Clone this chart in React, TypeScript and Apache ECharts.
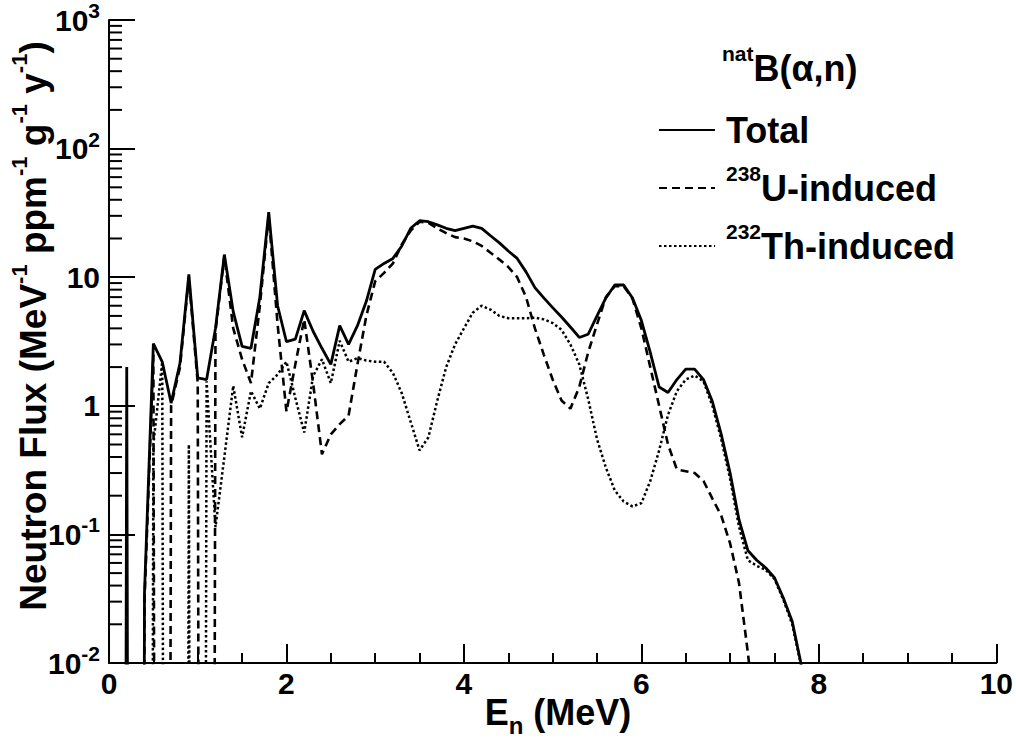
import React, { useEffect, useRef } from "react";
import * as echarts from "echarts";

// Empty bins (zero flux) - drawn off-scale below the log axis
const ZERO = 1e-30;

const energies = [
  0.1, 0.2, 0.3, 0.4, 0.5, 0.6, 0.7, 0.8, 0.9, 1.0,
  1.1, 1.2, 1.3, 1.4, 1.5, 1.6, 1.7, 1.8, 1.9, 2.0,
  2.1, 2.2, 2.3, 2.4, 2.5, 2.6, 2.7, 2.8, 2.9, 3.0,
  3.1, 3.2, 3.3, 3.4, 3.5, 3.6, 3.7, 3.8, 3.9, 4.0,
  4.1, 4.2, 4.3, 4.4, 4.5, 4.6, 4.7, 4.8, 4.9, 5.0,
  5.1, 5.2, 5.3, 5.4, 5.5, 5.6, 5.7, 5.8, 5.9, 6.0,
  6.1, 6.2, 6.3, 6.4, 6.5, 6.6, 6.7, 6.8, 6.9, 7.0,
  7.1, 7.2, 7.3, 7.4, 7.5, 7.6, 7.7, 7.8, 7.9,
];

const totalFlux = [
  ZERO, 2.0, ZERO, 0.035, 3.05, 2.2, 1.05, 2.15, 10.5, 1.65,
  1.6, 4.0, 15, 5.4, 2.9, 2.8, 7.0, 32, 6.0, 3.15,
  3.3, 5.5, 3.8, 2.8, 2.1, 4.2, 3.0, 4.2, 6.5, 11.5,
  12.8, 14, 17.5, 24, 27.5, 27, 25.5, 24, 23, 24,
  25, 24, 21, 18.5, 16, 14, 11, 8.3, 6.9, 5.8,
  4.9, 4.1, 3.4, 3.6, 5.0, 6.9, 8.7, 8.7, 6.9, 4.6,
  2.6, 1.4, 1.27, 1.6, 1.93, 1.93, 1.6, 1.08, 0.6, 0.3,
  0.13, 0.075, 0.063, 0.055, 0.046, 0.032, 0.021, 0.0098, 0.003,
];

const u238Flux = [
  ZERO, ZERO, ZERO, 0.03, 2.5, ZERO, 1.0, 2.0, 10, 1.5,
  ZERO, 3.8, 14.5, 4.0, 2.3, 1.5, 6.0, 30, 4.3, 0.9,
  2.1, 4.7, 1.5, 0.42, 0.6, 0.72, 0.84, 2.1, 5.0, 9.3,
  10.8, 12.8, 18, 23, 27, 26.5, 24, 22, 20.5, 20,
  19, 17.5, 15.5, 13.7, 12, 10, 7, 4.0, 2.5, 1.6,
  1.1, 0.95, 1.4, 2.6, 4.3, 7.0, 8.5, 8.5, 6.8, 4.0,
  2.0, 1.0, 0.5, 0.32, 0.31, 0.3, 0.26, 0.19, 0.14, 0.085,
  0.042, 0.012, 0.003, 0.0005, 0.0001, ZERO, ZERO, ZERO, ZERO,
];

const th232Flux = [
  ZERO, ZERO, ZERO, ZERO, 0.5, 2.2, ZERO, ZERO, 0.5, ZERO,
  1.55, 0.114, 0.4, 1.43, 0.57, 1.3, 0.95, 1.5, 1.75, 2.2,
  1.15, 0.62, 1.7, 2.3, 1.5, 3.2, 2.2, 2.35, 2.25, 2.2,
  2.2, 1.8, 1.25, 0.75, 0.45, 0.57, 1.1, 2.0, 3.0, 4.0,
  5.3, 6.0, 5.6, 5.0, 4.8, 4.8, 4.8, 4.85, 4.7, 4.4,
  3.9, 3.0, 2.1, 1.13, 0.55, 0.33, 0.22, 0.18, 0.165, 0.175,
  0.26, 0.45, 0.85, 1.3, 1.6, 1.72, 1.55, 1.0, 0.55, 0.27,
  0.115, 0.063, 0.057, 0.053, 0.045, 0.031, 0.02, 0.0095, 0.003,
];

const seriesNames = ["Total", "238U-induced", "232Th-induced"];
const legendLabels: Record<string, string> = {
  Total: "Total",
  "238U-induced": "{sup|238}U-induced",
  "232Th-induced": "{sup|232}Th-induced",
};

const yDecades = [0.01, 0.1, 1, 10, 100];
const yMinorMultipliers = [2, 3, 4, 5, 6, 7, 8, 9];

const FONT = "'Liberation Sans', Arial, Helvetica, sans-serif";

export default function App() {
  const ref = useRef<HTMLDivElement>(null);

  useEffect(() => {
    if (!ref.current) return;
    const chart = echarts.init(ref.current, undefined, { renderer: "svg" });

    const mk = (vals: number[]) => energies.map((e, i) => [e, vals[i]]);
    const minorTickData: number[][] = [];
    yDecades.forEach((d) =>
      yMinorMultipliers.forEach((m) => minorTickData.push([0, m * d]))
    );

    const axisLineStyle = { color: "#000", width: 2 };

    const option: any = {
      animation: false,
      backgroundColor: "#fff",
      grid: { left: 109, right: 19, top: 18, bottom: 77, containLabel: false },
      xAxis: {
        type: "value",
        min: 0,
        max: 10,
        interval: 2,
        axisLine: { show: true, onZero: false, lineStyle: axisLineStyle },
        axisTick: { show: true, inside: true, length: 19, lineStyle: axisLineStyle },
        minorTick: { show: true, splitNumber: 4, length: 10, lineStyle: axisLineStyle },
        splitLine: { show: false },
        minorSplitLine: { show: false },
        axisLabel: {
          color: "#000",
          fontFamily: FONT,
          fontWeight: "bold",
          fontSize: 30,
          margin: 5,
        },
      },
      yAxis: {
        type: "log",
        logBase: 10,
        min: 0.01,
        max: 1000,
        axisLine: { show: true, lineStyle: axisLineStyle },
        axisTick: { show: true, inside: true, length: 26, lineStyle: axisLineStyle },
        minorTick: { show: false },
        splitLine: { show: false },
        axisLabel: {
          margin: 9,
          formatter: (v: number) => {
            const ex = Math.round(Math.log10(v));
            if (ex === 0) return "{b|1}";
            if (ex === 1) return "{b|10}";
            return "{b|10}{s|" + ex + "}";
          },
          rich: {
            b: {
              color: "#000",
              fontFamily: FONT,
              fontWeight: "bold",
              fontSize: 30,
              lineHeight: 40,
            },
            s: {
              color: "#000",
              fontFamily: FONT,
              fontWeight: "bold",
              fontSize: 21,
              lineHeight: 21,
              verticalAlign: "top",
            },
          },
        },
      },
      legend: {
        data: seriesNames,
        orient: "vertical",
        left: 653,
        top: 100,
        itemWidth: 56,
        itemHeight: 14,
        itemGap: 8,
        selectedMode: false,
        itemStyle: { opacity: 0 },
        formatter: (name: string) => legendLabels[name],
        textStyle: {
          color: "#000",
          fontFamily: FONT,
          fontWeight: "bold",
          fontSize: 36,
          lineHeight: 50,
          padding: [0, 0, 0, 6],
          rich: {
            sup: {
              color: "#000",
              fontFamily: FONT,
              fontWeight: "bold",
              fontSize: 21,
              lineHeight: 21,
              verticalAlign: "top",
            },
          },
        },
      },
      graphic: [
        {
          type: "text",
          x: 722,
          y: 68,
          style: {
            text: "{sup|nat}B(α,n)",
            fill: "#000",
            fontFamily: FONT,
            fontWeight: "bold",
            fontSize: 36,
            lineHeight: 50,
            align: "left",
            verticalAlign: "middle",
            rich: {
              sup: {
                fill: "#000",
                fontFamily: FONT,
                fontWeight: "bold",
                fontSize: 21,
                lineHeight: 21,
                verticalAlign: "top",
              },
            },
          },
        },
        {
          type: "text",
          x: 33,
          y: 326,
          rotation: Math.PI / 2,
          style: {
            text: "Neutron Flux (MeV{sup|-1} ppm{sup|-1} g{sup|-1} y{sup|-1})",
            fill: "#000",
            fontFamily: FONT,
            fontWeight: "bold",
            fontSize: 37,
            lineHeight: 50,
            align: "center",
            verticalAlign: "middle",
            rich: {
              sup: {
                fill: "#000",
                fontFamily: FONT,
                fontWeight: "bold",
                fontSize: 22,
                lineHeight: 22,
                verticalAlign: "top",
              },
            },
          },
        },
        {
          type: "text",
          x: 558,
          y: 712,
          style: {
            text: "E{sub|n} (MeV)",
            fill: "#000",
            fontFamily: FONT,
            fontWeight: "bold",
            fontSize: 36,
            lineHeight: 50,
            align: "center",
            verticalAlign: "middle",
            rich: {
              sub: {
                fill: "#000",
                fontFamily: FONT,
                fontWeight: "bold",
                fontSize: 24,
                lineHeight: 24,
                verticalAlign: "bottom",
              },
            },
          },
        },
      ],
      series: [
        {
          name: "Total",
          type: "line",
          data: mk(totalFlux),
          symbol: "none",
          showSymbol: false,
          clip: true,
          color: "#000",
          lineStyle: { color: "#000", width: 2.8, type: "solid" },
          z: 4,
        },
        {
          name: "238U-induced",
          type: "line",
          data: mk(u238Flux),
          symbol: "none",
          showSymbol: false,
          clip: true,
          color: "#000",
          lineStyle: { color: "#000", width: 2.6, type: [8, 5] },
          z: 3,
        },
        {
          name: "232Th-induced",
          type: "line",
          data: mk(th232Flux),
          symbol: "none",
          showSymbol: false,
          clip: true,
          color: "#000",
          lineStyle: { color: "#000", width: 2.5, type: [2.5, 2.5] },
          z: 2,
        },
        {
          name: "yMinorTicks",
          type: "custom",
          silent: true,
          clip: false,
          data: minorTickData,
          encode: { x: 0, y: 1 },
          renderItem: (params: any, api: any) => {
            const p = api.coord([0, api.value(1)]);
            return {
              type: "line",
              shape: { x1: p[0], y1: p[1], x2: p[0] + 13, y2: p[1] },
              style: { stroke: "#000", lineWidth: 2 },
            };
          },
          z: 5,
        },
      ],
    };

    chart.setOption(option);
    return () => chart.dispose();
  }, []);

  return (
    <div
      ref={ref}
      style={{
        position: "fixed",
        left: 0,
        top: 0,
        width: 1016,
        height: 740,
        background: "#fff",
      }}
    />
  );
}
